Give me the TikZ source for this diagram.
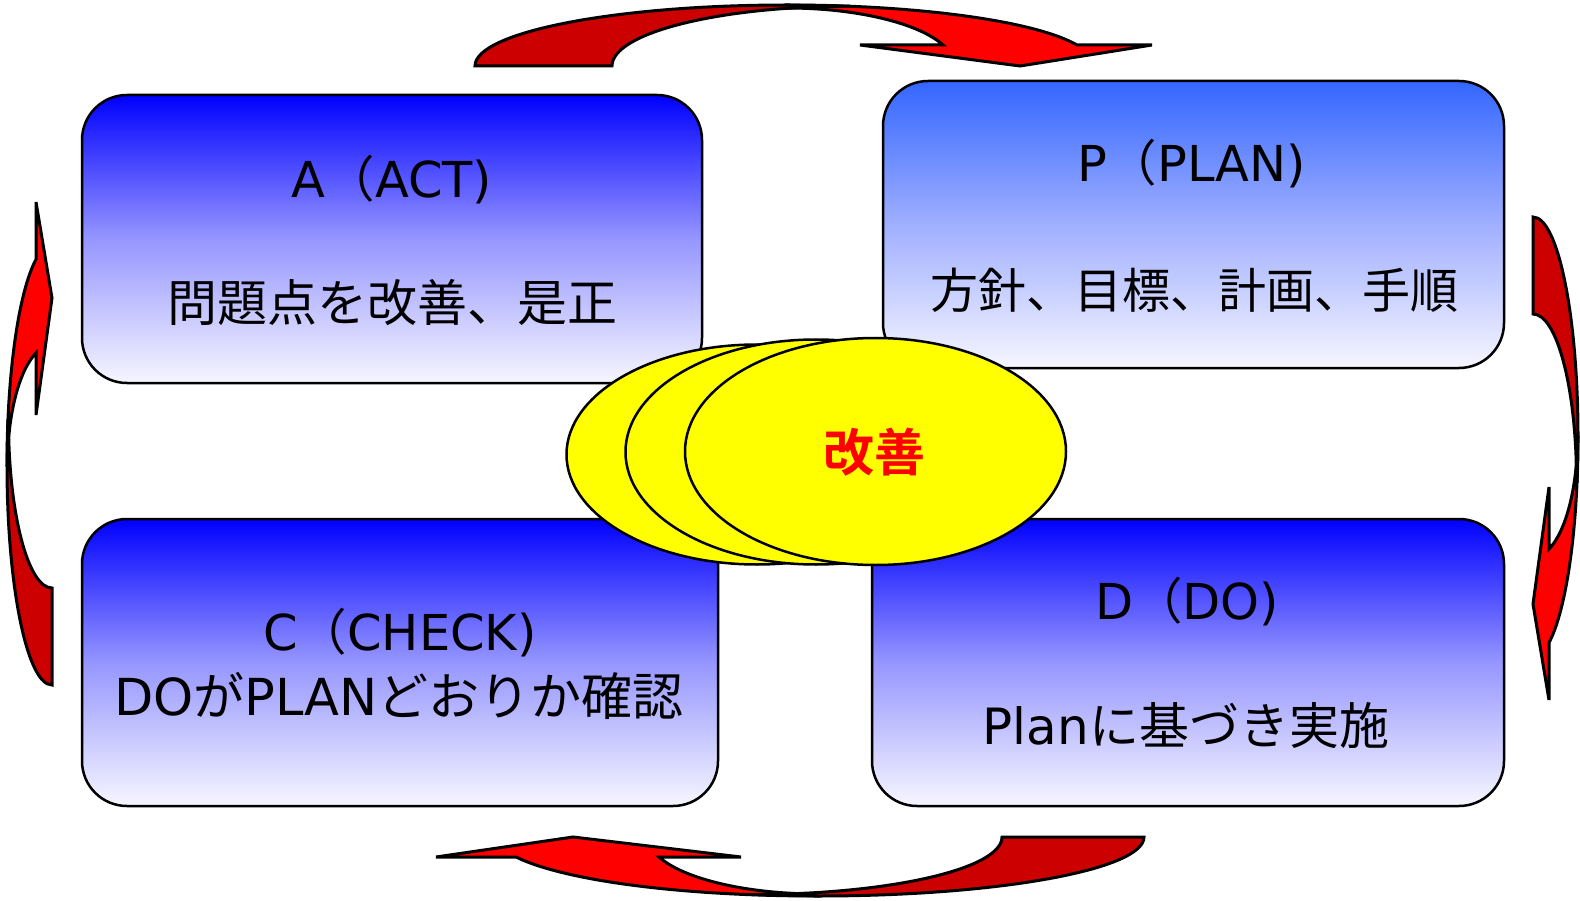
\documentclass[tikz,border=0pt]{standalone}
\usepackage{fontspec}
\setmainfont{DejaVu Sans}
\newfontfamily\jp{Noto Sans CJK JP}[BoldFont={Noto Sans CJK JP Bold}]
\usetikzlibrary{shapes.geometric}
\definecolor{dkred}{RGB}{204,0,0}
\definecolor{brred}{RGB}{255,0,0}
\definecolor{bluetop}{RGB}{0,0,255}
\definecolor{ptop}{RGB}{51,102,255}
\definecolor{boxmid}{RGB}{150,150,255}
\definecolor{pmid}{RGB}{160,175,255}
\definecolor{boxbot}{RGB}{246,246,255}
\definecolor{ellfill}{RGB}{255,255,0}
\tikzset{
  cbox/.style={draw=black, line width=2.5pt, rounded corners=45pt, inner sep=0pt,
    top color=bluetop, bottom color=boxbot, middle color=boxmid},
  pbox/.style={cbox, top color=ptop, bottom color=boxbot, middle color=pmid},
  txt/.style={inner sep=0pt, text=black, font=\fontsize{48}{58}\selectfont},
  ttl/.style={txt, font=\fontsize{49.5}{58}\selectfont},
  ell/.style={ellipse, draw=black, line width=2.5pt, fill=ellfill, inner sep=0pt,
    minimum width=381pt},
  arw/.style={draw=black, line width=3pt, line join=miter},
}
\newcommand\drawLeftCurvedArrow{%
  \filldraw[arw, fill=brred] (7,465) .. controls (7,373.8) and (18.6,291.9) .. (36,259.4)
    -- (36,202) -- (52,298) -- (36,415) -- (36,353)
    .. controls (18.9,370.6) and (7.5,415.3) .. (7.5,465) -- cycle;
  \filldraw[arw, fill=dkred] (52,685) .. controls (27.1,685) and (7,586.5) .. (7,465)
    -- (7.9,421) -- (8.5,421) .. controls (8.5,513.2) and (28,588) .. (52,588) -- cycle;
}
\begin{document}
\begin{tikzpicture}[x=1pt,y=-1pt]
\useasboundingbox (0,0) rectangle (1580,901);
% boxes
\node[cbox, minimum width=620pt, minimum height=288pt] (A) at (392,239) {};
\node[pbox, minimum width=621pt, minimum height=287pt] (P) at (1193.5,224.5) {};
\node[cbox, minimum width=636pt, minimum height=287pt] (C) at (400,662.5) {};
\node[cbox, minimum width=632pt, minimum height=287pt] (D) at (1188,662.5) {};
% box texts
\node[ttl] (At) at (392,180) {A{\jp （}ACT)};
\node[txt, font=\fontsize{50}{60}\selectfont] (Ab) at (392,303) {\jp 問題点を改善、是正};
\node[ttl] (Pt) at (1192,164) {P{\jp （}PLAN)};
\node[txt] (Pb) at (1194,290) {\jp 方針、目標、計画、手順};
\node[ttl] (Ct) at (400,633) {C{\jp （}CHECK)};
\node[txt, font=\fontsize{51}{60}\selectfont] (Cb) at (399,696) {DO{\jp が}PLAN{\jp どおりか確認}};
\node[ttl] (Dt) at (1187,602) {D{\jp （}DO)};
\node[txt, font=\fontsize{50}{60}\selectfont] (Db) at (1186,726) {Plan{\jp に基づき実施}};
% ellipses
\node[ell, minimum height=220pt] (E1) at (757,454.5) {};
\node[ell, minimum height=225pt] (E2) at (816,452) {};
\node[ell, minimum height=227pt] (E3) at (875.5,451.5) {};
\node[inner sep=0pt, text=brred, font=\fontsize{51}{60}\selectfont\jp\bfseries] (K) at (874,452) {改善};
% top curved arrow
\filldraw[arw, fill=brred] (787,5) .. controls (918.2,5) and (1035.3,21) .. (1077,45)
  -- (1152,45) -- (1020,66) -- (860,45) -- (943,45)
  .. controls (919.1,23.3) and (856.8,8) .. (787,8) -- cycle;
\filldraw[arw, fill=dkred] (475,66) .. controls (475,32.3) and (614.7,5) .. (787,5)
  -- (850,6.2) .. controls (718.6,6.2) and (612,33.1) .. (612,66) -- cycle;
% bottom curved arrow
\filldraw[arw, fill=brred] (818,896) .. controls (685.5,896) and (566.3,881.5) .. (516,857)
  -- (436,857) -- (573,837) -- (741,857) -- (659,857)
  .. controls (683.9,879.2) and (747.2,894) .. (818,894) -- cycle;
\filldraw[arw, fill=dkred] (1144,837) .. controls (1144,869.6) and (998,896) .. (818,896)
  -- (752,894.5) .. controls (890,894.5) and (1002,868.8) .. (1002,837) -- cycle;
% left curved arrow
\drawLeftCurvedArrow
% right curved arrow
\begin{scope}[rotate around={180:(792.5,451)}]
\drawLeftCurvedArrow
\end{scope}
\end{tikzpicture}
\end{document}
